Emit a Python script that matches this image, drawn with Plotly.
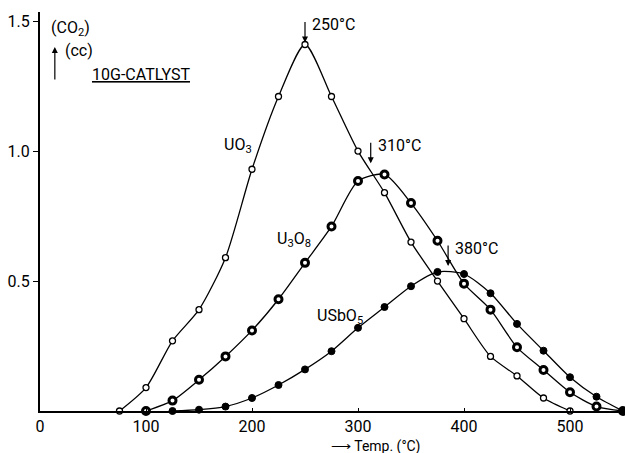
import plotly.graph_objects as go

# --- data ---
temps_uo3 = [75, 100, 125, 150, 175, 200, 225, 250, 275, 300, 325, 350, 375, 400, 425, 450, 475, 500]
co2_uo3 = [0.0, 0.09, 0.27, 0.39, 0.59, 0.93, 1.21, 1.41, 1.21, 1.00, 0.84, 0.65, 0.50, 0.355, 0.21, 0.135, 0.05, 0.0]

temps_u3o8 = [100, 125, 150, 175, 200, 225, 250, 275, 300, 325, 350, 375, 400, 425, 450, 475, 500, 525, 550]
co2_u3o8 = [0.0, 0.04, 0.12, 0.21, 0.31, 0.43, 0.57, 0.71, 0.885, 0.91, 0.80, 0.655, 0.49, 0.39, 0.245, 0.158, 0.072, 0.017, 0.0]

temps_usbo5 = [125, 150, 175, 200, 225, 250, 275, 300, 325, 350, 375, 400, 425, 450, 475, 500, 525, 550]
co2_usbo5 = [0.0, 0.005, 0.017, 0.05, 0.10, 0.16, 0.23, 0.32, 0.40, 0.48, 0.535, 0.527, 0.453, 0.335, 0.232, 0.13, 0.055, 0.0]

x_ticks = [0, 100, 200, 300, 400, 500]
y_ticks = [0.5, 1.0, 1.5]
y_tick_labels = ["0.5", "1.0", "1.5"]

peaks = [(250, 1.41, "250°C"), (312, 0.945, "310°C"), (385, 0.55, "380°C")]

FONT = "Roboto"

fig = go.Figure()

line_style = dict(color="black", width=1.3, shape="spline", smoothing=0.7)

fig.add_trace(go.Scatter(
    x=temps_uo3, y=co2_uo3, mode="lines+markers", name="UO3",
    line=line_style, cliponaxis=False,
    marker=dict(symbol="circle", size=6, color="white", line=dict(color="black", width=1.3)),
))
fig.add_trace(go.Scatter(
    x=temps_u3o8, y=co2_u3o8, mode="lines+markers", name="U3O8",
    line=line_style, cliponaxis=False,
    marker=dict(symbol="circle", size=7, color="white", line=dict(color="black", width=3)),
))
fig.add_trace(go.Scatter(
    x=temps_usbo5, y=co2_usbo5, mode="lines+markers", name="USbO5",
    line=line_style, cliponaxis=False,
    marker=dict(symbol="circle", size=7, color="black", line=dict(color="black", width=1)),
))

annotations = []
for px_, py_, label in peaks:
    annotations.append(dict(x=px_, y=py_, xref="x", yref="y", text="", showarrow=True,
                            axref="pixel", ayref="pixel", ax=0, ay=-24,
                            arrowhead=2, arrowsize=1, arrowwidth=1.2, arrowcolor="black", standoff=2))
    annotations.append(dict(x=px_, y=py_, xref="x", yref="y", text=label, showarrow=False,
                            xanchor="left", yanchor="middle", xshift=5, yshift=20,
                            font=dict(family=FONT, size=16, color="black")))

labels = [
    (186.5, 1.02, "UO<sub>3</sub>"),
    (239.5, 0.66, "U<sub>3</sub>O<sub>8</sub>"),
    (283, 0.365, "USbO<sub>5</sub>"),
]
for lx, ly, lt in labels:
    annotations.append(dict(x=lx, y=ly, xref="x", yref="y", text=lt, showarrow=False,
                            xanchor="center", yanchor="middle",
                            font=dict(family=FONT, size=16, color="black")))

annotations.append(dict(x=47.5, y=1.296, xref="x", yref="y", text="<u>10G-CATLYST</u>", showarrow=False,
                        xanchor="left", yanchor="middle", font=dict(family=FONT, size=16, color="black")))
annotations.append(dict(x=29, y=1.47, xref="x", yref="y", text="(CO<sub>2</sub>)", showarrow=False,
                        xanchor="center", yanchor="middle", font=dict(family=FONT, size=16, color="black")))
annotations.append(dict(x=37, y=1.385, xref="x", yref="y", text="(cc)", showarrow=False,
                        xanchor="center", yanchor="middle", font=dict(family=FONT, size=16, color="black")))
annotations.append(dict(x=14, y=1.40, xref="x", yref="y", text="", showarrow=True,
                        axref="pixel", ayref="pixel", ax=0, ay=34,
                        arrowhead=2, arrowsize=1, arrowwidth=1.2, arrowcolor="black", standoff=0))
# x-axis title with arrow
annotations.append(dict(x=0.575, y=-0.089, xref="paper", yref="paper", text="⟶ Temp. (°C)", showarrow=False,
                        xanchor="center", yanchor="middle", borderpad=0,
                        font=dict(family=FONT, size=14, color="black")))

fig.update_layout(
    width=625, height=453,
    margin=dict(l=40, r=2, t=12, b=42),
    paper_bgcolor="white", plot_bgcolor="white",
    showlegend=False,
    annotations=annotations,
    xaxis=dict(range=[0, 550], tickvals=x_ticks, showgrid=False, zeroline=False,
               showline=True, linecolor="black", linewidth=2, ticks="inside", ticklen=3,
               tickcolor="black",
               tickfont=dict(family=FONT, size=16, color="black")),
    yaxis=dict(range=[0, 1.535], tickvals=y_ticks, ticktext=y_tick_labels, showgrid=False, zeroline=False,
               showline=True, linecolor="black", linewidth=2, ticks="outside", ticklen=5,
               tickcolor="black", tickfont=dict(family=FONT, size=16, color="black")),
)

fig.write_html("out.html", config={"displayModeBar": False},
               post_script="document.body.style.margin='0';document.body.style.padding='0';document.body.style.overflow='hidden';")
